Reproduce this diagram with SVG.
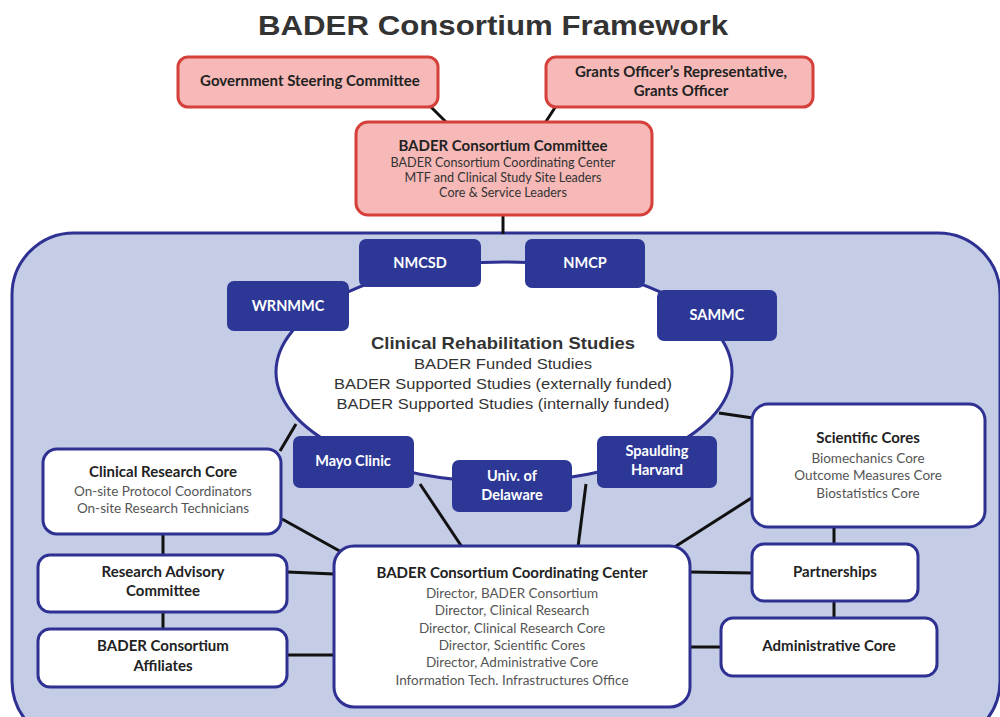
<svg xmlns="http://www.w3.org/2000/svg" width="1000" height="717" viewBox="0 0 1000 717">
<style>
.pink{fill:#f6b9b7;stroke:#d6403b;stroke-width:3}
.wbox{fill:#ffffff;stroke:#2e3192;stroke-width:3}
.bbox{fill:#2d3896;stroke:#2d3896;stroke-width:2}
.con line{stroke:#111;stroke-width:3}
.t{font-family:Lato,"Open Sans",sans-serif;text-anchor:middle}
.h{font-weight:bold;font-size:15px;fill:#222}
.s{font-size:13.5px;fill:#555}
.w{font-weight:bold;font-size:14.5px;fill:#ffffff}
.n{font-family:"Liberation Sans",Arial,sans-serif;text-anchor:middle;fill:#333}
</style>
<rect width="1000" height="717" fill="#ffffff"/>
<text x="493" y="35" font-family="Liberation Sans, Arial, sans-serif" font-weight="bold" font-size="28" fill="#333" text-anchor="middle" textLength="470" lengthAdjust="spacingAndGlyphs">BADER Consortium Framework</text>

<g id="container"><rect x="12" y="233" width="988" height="510" rx="62" fill="#c4cce6" stroke="#2e3192" stroke-width="3"/></g>

<g class="con" id="connectors">
<line x1="430" y1="106" x2="447" y2="123"/>
<line x1="556" y1="106" x2="545" y2="123"/>
<line x1="503" y1="215" x2="503" y2="234"/>
<line x1="296" y1="424" x2="280" y2="451"/>
<line x1="719" y1="413" x2="753" y2="418"/>
<line x1="420" y1="484" x2="462" y2="547"/>
<line x1="586" y1="484" x2="578" y2="547"/>
<line x1="282" y1="519" x2="345" y2="554"/>
<line x1="753" y1="497" x2="673" y2="548"/>
<line x1="163" y1="534" x2="163" y2="556"/>
<line x1="287" y1="572" x2="334" y2="574"/>
<line x1="163" y1="612" x2="163" y2="630"/>
<line x1="287" y1="655" x2="334" y2="655"/>
<line x1="690" y1="572" x2="753" y2="573"/>
<line x1="834" y1="527" x2="834" y2="545"/>
<line x1="834" y1="601" x2="834" y2="619"/>
<line x1="690" y1="647" x2="722" y2="647"/>
</g>

<g id="gov"><rect class="pink" x="178" y="57" width="260" height="50" rx="10"/>
<text class="t h" x="310" y="86">Government Steering Committee</text></g>
<g id="grants"><rect class="pink" x="546" y="57" width="267" height="50" rx="10"/>
<text class="t h" x="681" y="77">Grants Officer’s Representative,</text>
<text class="t h" x="681" y="96">Grants Officer</text></g>
<g id="committee"><rect class="pink" x="356" y="122" width="296" height="93" rx="12"/>
<text class="t h" x="503" y="151">BADER Consortium  Committee</text>
<text class="t" x="503" y="167" font-size="12.6" fill="#333">BADER Consortium Coordinating Center</text>
<text class="t" x="503" y="182" font-size="12.6" fill="#333">MTF and Clinical Study Site Leaders</text>
<text class="t" x="503" y="197" font-size="12.6" fill="#333">Core &amp; Service Leaders</text></g>

<g id="studies"><ellipse cx="504" cy="372" rx="228" ry="110" fill="#ffffff" stroke="#2e3192" stroke-width="3"/>
<text class="n" x="503" y="349" font-size="17" font-weight="bold" fill="#222" textLength="264" lengthAdjust="spacingAndGlyphs">Clinical Rehabilitation Studies</text>
<text class="n" x="503" y="369" font-size="15" textLength="178" lengthAdjust="spacingAndGlyphs">BADER Funded Studies</text>
<text class="n" x="503" y="389" font-size="15" textLength="338" lengthAdjust="spacingAndGlyphs">BADER Supported Studies (externally funded)</text>
<text class="n" x="503" y="409" font-size="15" textLength="333" lengthAdjust="spacingAndGlyphs">BADER Supported Studies (internally funded)</text></g>

<g id="nmcsd"><rect class="bbox" x="360" y="240" width="120" height="46" rx="6"/><text class="t w" x="420" y="268">NMCSD</text></g>
<g id="nmcp"><rect class="bbox" x="526" y="240" width="118" height="47" rx="6"/><text class="t w" x="585" y="268">NMCP</text></g>
<g id="wrnmmc"><rect class="bbox" x="228" y="282" width="120" height="48" rx="6"/><text class="t w" x="288" y="311">WRNMMC</text></g>
<g id="sammc"><rect class="bbox" x="658" y="291" width="118" height="49" rx="6"/><text class="t w" x="717" y="320">SAMMC</text></g>
<g id="mayo"><rect class="bbox" x="294" y="437" width="119" height="50" rx="6"/><text class="t w" x="353" y="466">Mayo Clinic</text></g>
<g id="udel"><rect class="bbox" x="453" y="461" width="118" height="50" rx="6"/><text class="t w" x="512" y="481">Univ. of</text><text class="t w" x="512" y="500">Delaware</text></g>
<g id="spaulding"><rect class="bbox" x="598" y="437" width="118" height="50" rx="6"/><text class="t w" x="657" y="456">Spaulding</text><text class="t w" x="657" y="475">Harvard</text></g>

<g id="crc"><rect class="wbox" x="43" y="449" width="238" height="85" rx="14"/>
<text class="t h" x="163" y="477">Clinical Research Core</text>
<text class="t s" x="163" y="496">On-site Protocol Coordinators</text>
<text class="t s" x="163" y="513">On-site Research Technicians</text></g>
<g id="rac"><rect class="wbox" x="38" y="555" width="249" height="57" rx="12"/>
<text class="t h" x="163" y="577">Research Advisory</text>
<text class="t h" x="163" y="596">Committee</text></g>
<g id="affiliates"><rect class="wbox" x="38" y="629" width="249" height="58" rx="12"/>
<text class="t h" x="163" y="651">BADER Consortium</text>
<text class="t h" x="163" y="671">Affiliates</text></g>
<g id="bccc"><rect class="wbox" x="334" y="546" width="356" height="161" rx="20"/>
<text class="t h" x="512" y="578">BADER Consortium  Coordinating  Center</text>
<text class="t s" x="512" y="598">Director, BADER Consortium</text>
<text class="t s" x="512" y="615">Director, Clinical Research</text>
<text class="t s" x="512" y="633">Director, Clinical Research Core</text>
<text class="t s" x="512" y="650">Director, Scientific Cores</text>
<text class="t s" x="512" y="667">Director, Administrative Core</text>
<text class="t s" x="512" y="685">Information Tech. Infrastructures Office</text></g>
<g id="scientific"><rect class="wbox" x="752" y="404" width="233" height="123" rx="16"/>
<text class="t h" x="868" y="443">Scientific Cores</text>
<text class="t s" x="868" y="463">Biomechanics Core</text>
<text class="t s" x="868" y="480">Outcome Measures Core</text>
<text class="t s" x="868" y="498">Biostatistics Core</text></g>
<g id="partnerships"><rect class="wbox" x="752" y="544" width="166" height="57" rx="12"/>
<text class="t h" x="835" y="577">Partnerships</text></g>
<g id="admin"><rect class="wbox" x="721" y="618" width="216" height="58" rx="12"/>
<text class="t h" x="829" y="651">Administrative  Core</text></g>
</svg>
